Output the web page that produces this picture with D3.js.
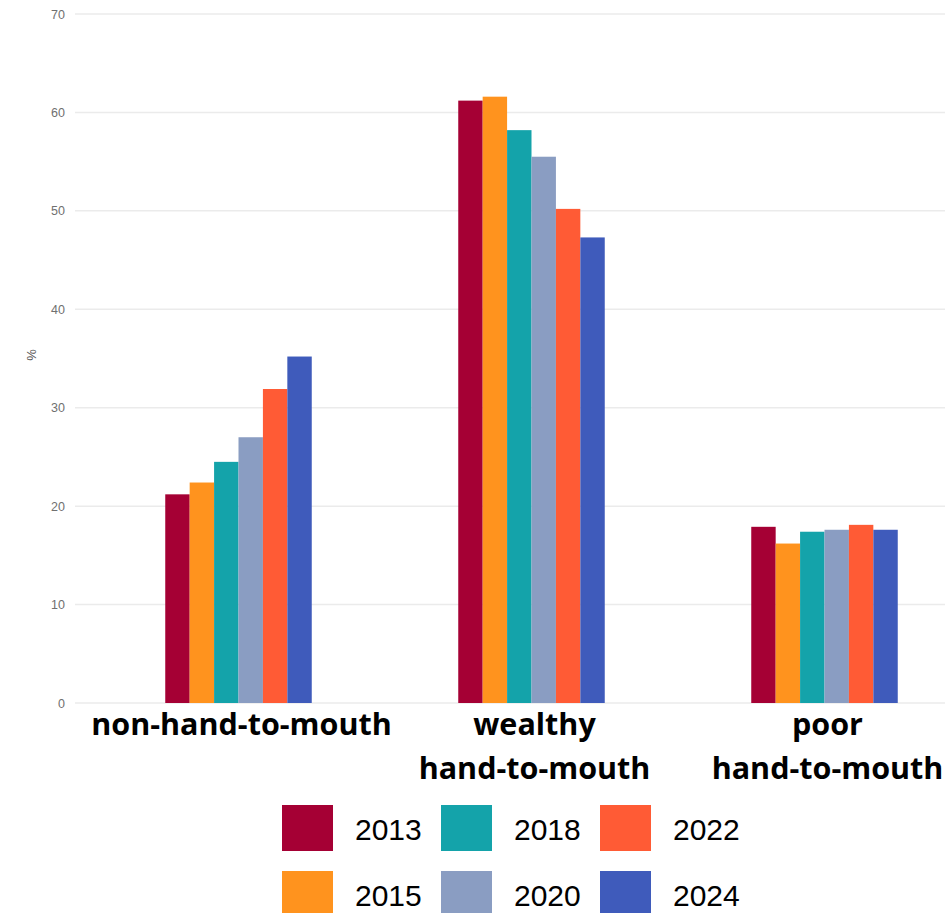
<!DOCTYPE html>
<html>
<head>
<meta charset="utf-8">
<script src="https://cdn.jsdelivr.net/npm/d3@7"></script>
<style>
  body { margin: 0; background: #fff; }
</style>
</head>
<body>
<div id="chart"></div>
<script>
var width = 945, height = 913;

// data
var groups = ["non-hand-to-mouth", "wealthy\nhand-to-mouth", "poor\nhand-to-mouth"];
var years = ["2013", "2015", "2018", "2020", "2022", "2024"];
var v2013 = [21.2, 61.2, 17.9];
var v2015 = [22.4, 61.6, 16.2];
var v2018 = [24.5, 58.2, 17.4];
var v2020 = [27.0, 55.5, 17.6];
var v2022 = [31.9, 50.2, 18.1];
var v2024 = [35.2, 47.3, 17.6];
var yTicks = [0, 10, 20, 30, 40, 50, 60, 70];
var colors = ["#A50034", "#FF931E", "#14A3AA", "#8A9DC2", "#FF5B35", "#3F5BBB"];

var series = [v2013, v2015, v2018, v2020, v2022, v2024];

var svg = d3.select("#chart")
  .append("svg")
    .attr("width", width)
    .attr("height", height)
    .style("font-family", "'Liberation Sans', Arial, sans-serif");

var y = d3.scaleLinear().domain([0, 70]).range([703, 14]);

var x0 = d3.scaleBand()
    .domain(groups)
    .range([92, 971])
    .paddingInner(0.5)
    .paddingOuter(0.25);

var x1 = d3.scaleBand()
    .domain(years)
    .range([0, x0.bandwidth()]);

var color = d3.scaleOrdinal().domain(years).range(colors);

// grid lines
svg.append("g").selectAll("line")
  .data(yTicks)
  .enter().append("line")
    .attr("x1", 75)
    .attr("x2", width)
    .attr("y1", function(d){ return y(d); })
    .attr("y2", function(d){ return y(d); })
    .attr("stroke", "#ebebeb")
    .attr("stroke-width", 1.5);

// y axis (labels only)
var yAxis = svg.append("g")
    .attr("transform", "translate(70,0)")
    .call(d3.axisLeft(y).tickValues(yTicks).tickSize(0).tickPadding(5));
yAxis.select(".domain").remove();
yAxis.selectAll("text")
    .style("font-family", "'Liberation Sans', Arial, sans-serif")
    .style("font-size", "12.5px")
    .style("fill", "#707070");

svg.append("text")
    .attr("transform", "translate(36,355) rotate(-90)")
    .attr("text-anchor", "middle")
    .style("font-size", "13px")
    .style("fill", "#555")
    .text("%");

// bars
var rows = [];
groups.forEach(function(g, gi) {
  years.forEach(function(yr, yi) {
    rows.push({group: g, year: yr, value: series[yi][gi]});
  });
});

svg.append("g").selectAll("rect")
  .data(rows)
  .enter().append("rect")
    .attr("x", function(d){ return x0(d.group) + x1(d.year); })
    .attr("y", function(d){ return y(d.value); })
    .attr("width", x1.bandwidth())
    .attr("height", function(d){ return y(0) - y(d.value); })
    .attr("fill", function(d){ return color(d.year); });

// category labels
var cat = svg.append("g").selectAll("text")
  .data(groups)
  .enter().append("text")
    .attr("text-anchor", "middle")
    .attr("y", 735)
    .style("font-family", "'Open Sans', 'Liberation Sans', sans-serif")
    .style("font-weight", "bold")
    .style("font-size", "30.5px")
    .style("fill", "#000");
cat.selectAll("tspan")
  .data(function(d){ return d.split("\n").map(function(t){ return {t: t, g: d}; }); })
  .enter().append("tspan")
    .attr("x", function(d){ return x0(d.g) + x0.bandwidth() / 2 + 3; })
    .attr("dy", function(d, i){ return i === 0 ? 0 : 44; })
    .text(function(d){ return d.t; });

// legend
var legend = svg.append("g").selectAll("g")
  .data(years)
  .enter().append("g")
    .attr("transform", function(d, i) {
      var col = Math.floor(i / 2), row = i % 2;
      return "translate(" + (282 + col * 159) + "," + (805 + row * 66) + ")";
    });
legend.append("rect")
    .attr("width", 51)
    .attr("height", 46)
    .attr("fill", function(d){ return color(d); });
legend.append("text")
    .attr("x", 73)
    .attr("y", 35)
    .style("font-size", "30px")
    .style("fill", "#000")
    .text(function(d){ return d; });
</script>
</body>
</html>
